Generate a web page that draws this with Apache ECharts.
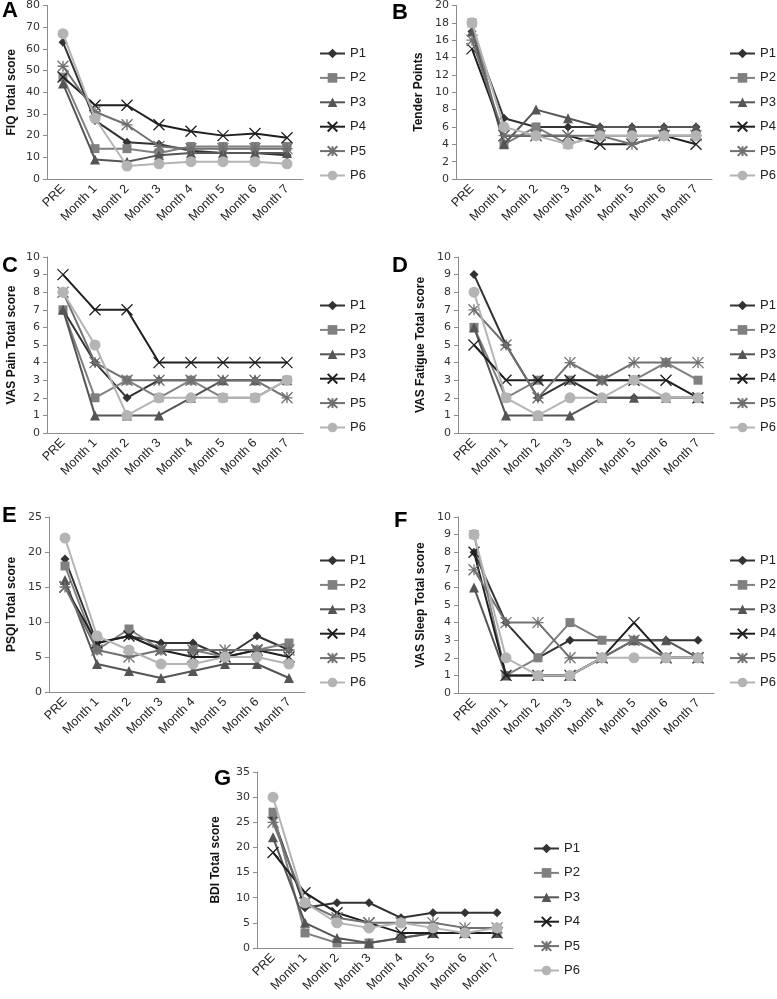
<!DOCTYPE html>
<html><head><meta charset="utf-8">
<script src="https://cdn.jsdelivr.net/npm/echarts@6/dist/echarts.min.js"></script>
<style>html,body{margin:0;padding:0;background:#fff}#c{width:777px;height:999px}</style>
</head><body><div id="c"></div>
<script>
const categories = ['PRE','Month 1','Month 2','Month 3','Month 4','Month 5','Month 6','Month 7'];
const seriesNames = ['P1','P2','P3','P4','P5','P6'];

// A: FIQ Total score (rows P1..P6)
const fiqValues = [
  [63, 27, 17, 16, 13, 12, 12, 11],
  [47, 14, 14, 12, 15, 15, 15, 15],
  [44, 9, 8, 11, 12, 12, 12, 12],
  [47, 34, 34, 25, 22, 20, 21, 19],
  [52, 31, 25, 15, 14, 14, 14, 14],
  [67, 28, 6, 7, 8, 8, 8, 7]
];
// B: Tender Points
const tenderValues = [
  [17, 7, 6, 6, 6, 6, 6, 6],
  [18, 4, 6, 4, 5, 5, 5, 5],
  [17, 4, 8, 7, 6, 6, 6, 6],
  [15, 5, 5, 5, 4, 4, 5, 4],
  [16, 5, 5, 5, 5, 4, 5, 5],
  [18, 6, 5, 4, 5, 5, 5, 5]
];
// C: VAS Pain
const painValues = [
  [7, 4, 2, 3, 3, 3, 3, 3],
  [7, 2, 3, 2, 3, 2, 2, 3],
  [7, 1, 1, 1, 2, 3, 3, 3],
  [9, 7, 7, 4, 4, 4, 4, 4],
  [8, 4, 3, 3, 3, 3, 3, 2],
  [8, 5, 1, 2, 2, 2, 2, 3]
];
// D: VAS Fatigue
const fatigueValues = [
  [9, 5, 2, 3, 2, 2, 2, 2],
  [6, 2, 3, 3, 3, 3, 4, 3],
  [6, 1, 1, 1, 2, 2, 2, 2],
  [5, 3, 3, 3, 3, 3, 3, 2],
  [7, 5, 2, 4, 3, 4, 4, 4],
  [8, 2, 1, 2, 2, 3, 2, 2]
];
// E: PSQI
const psqiValues = [
  [19, 7, 8, 7, 7, 5, 8, 6],
  [18, 6, 9, 6, 6, 5, 6, 7],
  [16, 4, 3, 2, 3, 4, 4, 2],
  [15, 7, 8, 6, 5, 5, 6, 5],
  [15, 6, 5, 6, 6, 6, 6, 6],
  [22, 8, 6, 4, 4, 5, 5, 4]
];
// F: VAS Sleep
const sleepValues = [
  [8, 4, 2, 3, 3, 3, 3, 3],
  [9, 1, 2, 4, 3, 3, 2, 2],
  [6, 1, 1, 1, 2, 3, 3, 2],
  [8, 1, 1, 1, 2, 4, 2, 2],
  [7, 4, 4, 2, 2, 3, 2, 2],
  [9, 2, 1, 1, 2, 2, 2, 2]
];
// G: BDI
const bdiValues = [
  [26, 8, 9, 9, 6, 7, 7, 7],
  [27, 3, 1, 1, 2, 3, 3, 3],
  [22, 5, 2, 1, 2, 3, 3, 3],
  [19, 11, 7, 5, 3, 3, 3, 3],
  [25, 9, 6, 5, 5, 5, 4, 4],
  [30, 9, 5, 4, 5, 4, 3, 4]
];

const panels = [
  {letter:'A', title:'FIQ Total score', data:fiqValues, max:80, interval:10, left:47, top:4, height:175, gap:29, legL:319, legT:47, lx:2, ly:0},
  {letter:'B', title:'Tender Points', data:tenderValues, max:20, interval:2, left:456, top:4, height:175, gap:31, legL:729, legT:47, lx:392, ly:2},
  {letter:'C', title:'VAS Pain Total score', data:painValues, max:10, interval:1, left:47, top:257, height:176, gap:29, legL:319, legT:299, lx:2, ly:255},
  {letter:'D', title:'VAS Fatigue Total score', data:fatigueValues, max:10, interval:1, left:458, top:257, height:176, gap:31, legL:729, legT:299, lx:392, ly:255},
  {letter:'E', title:'PSQI Total score', data:psqiValues, max:25, interval:5, left:49, top:517, height:175, gap:31, legL:319, legT:554, lx:2, ly:505},
  {letter:'F', title:'VAS Sleep Total score', data:sleepValues, max:10, interval:1, left:458, top:517, height:176, gap:31, legL:729, legT:554, lx:394, ly:510},
  {letter:'G', title:'BDI Total score', data:bdiValues, max:35, interval:5, left:257, top:772, height:176, gap:35, legL:533, legT:842, lx:214, ly:768}
];

const colors = ['#333333','#808080','#555555','#1f1f1f','#707070','#b4b4b4'];
const symbols = ['diamond','rect','triangle','path://M0,0L10,10M10,0L0,10','path://M0,0L10,10M10,0L0,10M5,0L5,10M0,5L10,5','circle'];
const sizes = [9, 9, 10, 11, 11, 11];

const grid = [], xAxis = [], yAxis = [], series = [], legend = [], graphic = [];
panels.forEach((p, i) => {
  grid.push({left:p.left, top:p.top, width:256, height:p.height});
  xAxis.push({type:'category', gridIndex:i, data:categories, boundaryGap:true,
    axisLine:{lineStyle:{color:'#8c8c8c', width:1}}, axisTick:{show:false},
    axisLabel:{rotate:45, margin:8, color:'#222', fontFamily:'Liberation Sans', fontSize:12.5}});
  yAxis.push({type:'value', gridIndex:i, min:0, max:p.max, interval:p.interval,
    name:p.title, nameLocation:'middle', nameGap:p.gap,
    nameTextStyle:{fontFamily:'Liberation Sans', fontWeight:'bold', fontSize:12, color:'#111'},
    splitLine:{show:false},
    axisLine:{show:true, lineStyle:{color:'#8c8c8c', width:1}},
    axisTick:{show:true, length:4, lineStyle:{color:'#8c8c8c'}},
    axisLabel:{color:'#333', fontFamily:'DejaVu Sans', fontSize:11, margin:7}});
  p.data.forEach((vals, k) => {
    const isStroke = k === 3 || k === 4;
    series.push({name:seriesNames[k], type:'line', xAxisIndex:i, yAxisIndex:i, data:vals,
      symbol:symbols[k], symbolSize:sizes[k], animation:false,
      lineStyle:{color:colors[k], width:2},
      itemStyle: isStroke ? {color:colors[k], borderColor:colors[k], borderWidth:1.3} : {color:colors[k]},
      z: 2 + k});
  });
  legend.push({orient:'vertical', left:p.legL, top:p.legT, padding:0, itemWidth:25, itemHeight:12, itemGap:11.4,
    data:seriesNames, textStyle:{fontFamily:'Liberation Sans', fontSize:13, color:'#222'}});
  graphic.push({type:'text', left:p.lx, top:p.ly, style:{text:p.letter, font:'bold 22px Liberation Sans', fill:'#000'}});
});

const chart = echarts.init(document.getElementById('c'), null, {renderer:'canvas'});
chart.setOption({animation:false, grid, xAxis, yAxis, series, legend, graphic});
</script></body></html>
